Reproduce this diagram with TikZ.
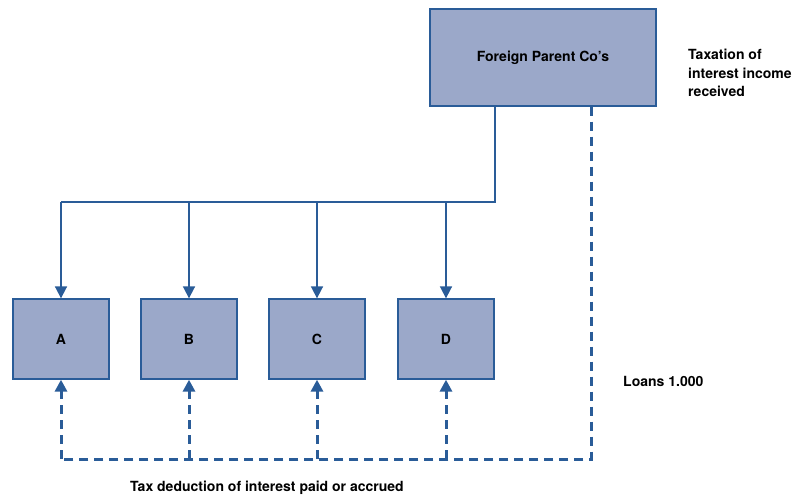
\documentclass[tikz,border=0pt]{standalone}
\usepackage{fontspec}
\setmainfont{TeX Gyre Heros}
\usetikzlibrary{arrows.meta,positioning}

\definecolor{boxfill}{HTML}{9BA8C9}
\definecolor{boxline}{HTML}{2A5C98}

\begin{document}
\begin{tikzpicture}[
    x=1pt, y=-1pt,
    every node/.style={font=\fontsize{14}{18.5}\selectfont\bfseries},
    co/.style={rectangle, draw=boxline, fill=boxfill, line width=1.3pt,
               minimum width=96pt, minimum height=80pt, inner sep=0pt},
    e/.style={draw=boxline, line width=1.7pt, -{Triangle[length=12pt, width=12pt]}},
    ed/.style={e, line width=3pt, dash pattern=on 9pt off 6pt},
    ln/.style={draw=boxline, line width=1.7pt},
    lnd/.style={ln, line width=3pt, dash pattern=on 9pt off 6pt},
    lbl/.style={align=left, inner sep=0pt},
  ]
  \useasboundingbox (0,0) rectangle (807,497);
  \node[co, minimum width=226pt, minimum height=97pt] (parent) at (543,57.5) {Foreign Parent Co's};
  \node[co] (a) at (61,339) {A};
  \node[co] (b) at (189,339) {B};
  \node[co] (c) at (317,339) {C};
  \node[co] (d) at (446,339) {D};
  \coordinate (bus) at (495,202);
  \coordinate (dr) at (591,459);
  % loans down to the subsidiaries
  \draw[ln] (parent.south -| bus) -- (bus) -- (a.north |- bus);
  \foreach \n in {a,b,c,d}
    \draw[e] (\n.north |- bus) -- (\n.north);
  % interest back to the parent
  \draw[lnd] (parent.south -| dr) -- (dr) -- (a.south |- dr);
  \foreach \n in {a,b,c,d}
    \draw[ed] (\n.south |- dr) -- (\n.south);
  \node[lbl, anchor=west] (tax) at (688,73) {Taxation of\\interest income\\received};
  \node[lbl, anchor=west] (loans) at (623,381) {Loans 1.000};
  \node[lbl, anchor=west] (ded) at (130,488) {Tax deduction of interest paid or accrued};
\end{tikzpicture}
\end{document}
